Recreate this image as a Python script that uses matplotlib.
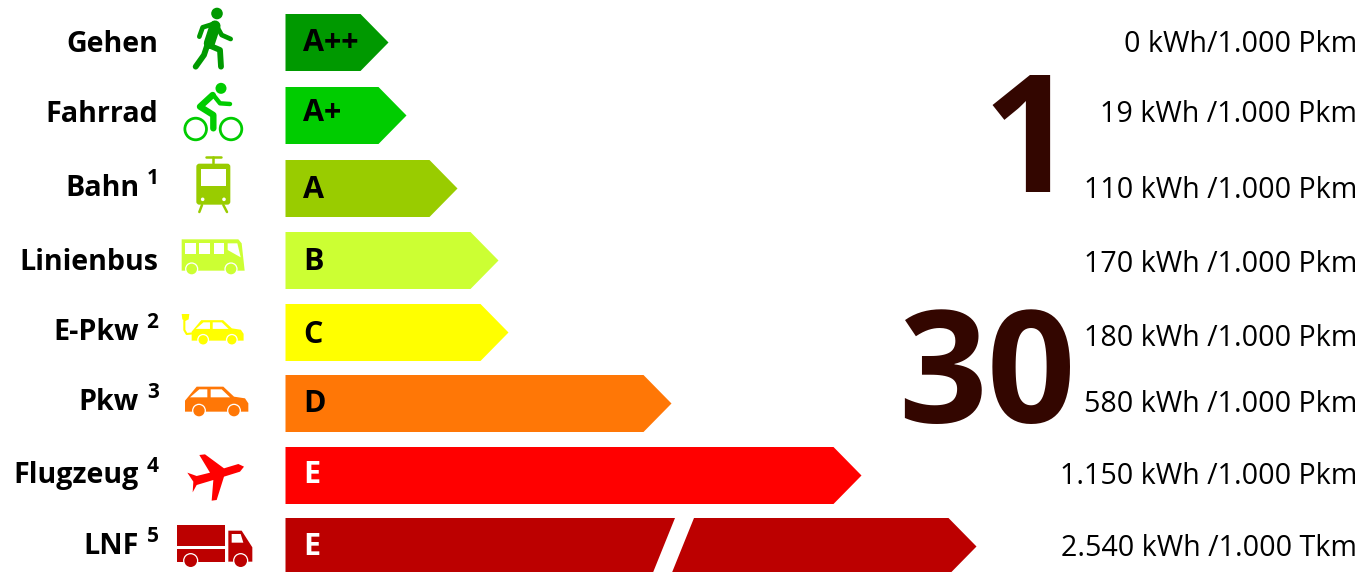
# -*- coding: utf-8 -*-
import numpy as np
import matplotlib
matplotlib.use('Agg')
import matplotlib.pyplot as plt
from matplotlib.patches import Circle, Polygon, FancyBboxPatch, Rectangle

plt.rcParams['font.family'] = ['Open Sans', 'DejaVu Sans']

modes = ['Gehen', 'Fahrrad', 'Bahn', 'Linienbus', 'E-Pkw', 'Pkw', 'Flugzeug', 'LNF']
footnotes = ['', '', '1', '', '2', '3', '4', '5']
classes = ['A++', 'A+', 'A', 'B', 'C', 'D', 'E', 'E']
kwh = [0, 19, 110, 170, 180, 580, 1150, 2540]
kwh_labels = ['0 kWh/1.000 Pkm', '19 kWh /1.000 Pkm', '110 kWh /1.000 Pkm',
              '170 kWh /1.000 Pkm', '180 kWh /1.000 Pkm', '580 kWh /1.000 Pkm',
              '1.150 kWh /1.000 Pkm', '2.540 kWh /1.000 Tkm']
colors = ['#009900', '#00CC00', '#99CC00', '#CCFF33', '#FFFF00', '#FF7706', '#FF0000', '#BC0000']
class_colors = ['k', 'k', 'k', 'k', 'k', 'k', 'w', 'w']

# the bars are schematic: the scale is not linear and the last bar is broken
scale_kwh = [0, 19, 110, 170, 180, 580, 1150, 2540]
scale_px = [103, 121, 172, 213, 223, 386, 576, 691]

BAR_X = 285.5
BAR_H = 57
HEAD = 28
bar_top = [14, 87, 160, 232, 304, 375, 447, 518]
text_y = [44, 115, 189, 263, 333, 403, 476, 547]
class_y = [43, 113, 190, 262, 335, 404, 475, 547]
value_y = [44, 115, 191, 264, 338, 404, 477, 548]


def bar_tip(value):
    return BAR_X + np.interp(value, scale_kwh, scale_px)


def draw_bar(ax, tip, top, color, broken=False):
    mid = top + BAR_H / 2
    bottom = top + BAR_H
    if not broken:
        pts = [(BAR_X, top), (tip - HEAD, top), (tip, mid), (tip - HEAD, bottom), (BAR_X, bottom)]
        ax.add_patch(Polygon(pts, closed=True, fc=color, ec='none'))
        return
    # slanted gap in the long bar
    ax.add_patch(Polygon([(BAR_X, top), (675, top), (652, bottom), (BAR_X, bottom)],
                         closed=True, fc=color, ec='none'))
    ax.add_patch(Polygon([(694, top), (tip - HEAD, top), (tip, mid), (tip - HEAD, bottom), (671, bottom)],
                         closed=True, fc=color, ec='none'))


def scaled(pts, y0=0):
    return [(x / 3, y0 + y / 3) for x, y in pts]


def stroke(ax, pts, color, lw, y0=0):
    xy = np.array(scaled(pts, y0))
    ax.plot(xy[:, 0], xy[:, 1], color=color, lw=lw, solid_capstyle='round',
            solid_joinstyle='round')


def shape(ax, pts, color, y0=0):
    ax.add_patch(Polygon(scaled(pts, y0), closed=True, fc=color, ec='none'))


def wheel(ax, x, y, r, color, y0=0, ring=1.3):
    ax.add_patch(Circle((x / 3, y0 + y / 3), r / 3 + ring, fc='w', ec='none'))
    ax.add_patch(Circle((x / 3, y0 + y / 3), r / 3, fc=color, ec='none'))


def icon_walk(ax, c):
    ax.add_patch(Circle((217, 13.5), 5.8, fc=c, ec='none'))
    stroke(ax, [(645, 78), (628, 130)], c, 8)
    stroke(ax, [(625, 135), (660, 150), (663, 200)], c, 4.2)
    stroke(ax, [(622, 135), (612, 165), (587, 200)], c, 4.2)
    stroke(ax, [(640, 72), (608, 82), (598, 110)], c, 3.4)
    stroke(ax, [(650, 78), (665, 105), (692, 117)], c, 3.4)


def icon_bike(ax, c):
    for x in (587, 693):
        ax.add_patch(Circle((x / 3, 387 / 3), 10.8, fc='none', ec=c, lw=2))
    ax.add_patch(Circle((663 / 3, 265 / 3), 5.5, fc=c, ec='none'))
    stroke(ax, [(638, 285), (600, 320), (640, 345), (640, 385)], c, 4.6)
    stroke(ax, [(640, 285), (660, 310), (690, 312)], c, 3.2)


def icon_tram(ax, c):
    ax.add_patch(FancyBboxPatch((592 / 3, 494 / 3), 96 / 3, 117 / 3, boxstyle='round,pad=1,rounding_size=3',
                                fc=c, ec='none'))
    ax.add_patch(Rectangle((603 / 3, 506 / 3), 75 / 3, 51 / 3, fc='w', ec='none'))
    for x in (608, 672):
        ax.add_patch(Circle((x / 3, 598 / 3), 1.8, fc='w', ec='none'))
    stroke(ax, [(617, 472), (664, 472)], c, 1.8)
    stroke(ax, [(640, 472), (640, 490)], c, 1.8)
    stroke(ax, [(606, 615), (598, 636)], c, 1.8)
    stroke(ax, [(670, 615), (681, 636)], c, 1.8)


def icon_bus(ax, c):
    shape(ax, [(545, 812), (545, 718), (715, 718), (725, 730), (734, 812)], c)
    for x in (556, 598, 641):
        ax.add_patch(Rectangle((x / 3, 730 / 3), 31 / 3, 32 / 3, fc='w', ec='none'))
    shape(ax, [(683, 730), (712, 730), (722, 772), (683, 750)], 'w')
    wheel(ax, 575, 807, 16, c)
    wheel(ax, 693, 807, 16, c)


def icon_car(ax, c, x0, y0, s):
    # outline of a car, shifted and scaled from its own top left corner
    def p(pts):
        return [(x0 + (x - 555) * s, y0 + (y - 287) * s) for x, y in pts]
    shape(ax, p([(555, 365), (555, 332), (590, 290), (670, 290), (702, 320), (735, 325), (745, 340), (745, 365)]), c, 290)
    shape(ax, p([(570, 322), (598, 298), (622, 298), (622, 322)]), 'w', 290)
    shape(ax, p([(632, 298), (665, 298), (690, 322), (632, 322)]), 'w', 290)
    for x, y in p([(597, 362), (702, 362)]):
        wheel(ax, x, y, 17 * s, c, 290)


def icon_plug(ax, c):
    stroke(ax, [(553, 92), (553, 120), (560, 132), (580, 130)], c, 1.5, 290)
    shape(ax, [(545, 72), (568, 72), (566, 88), (556, 93), (547, 88)], c, 290)


def icon_plane(ax, c):
    shape(ax, [(732, 530), (720, 545), (672, 560), (650, 630), (635, 632), (640, 570), (590, 585),
               (578, 607), (580, 575), (562, 548), (590, 558), (630, 548), (598, 495), (615, 493),
               (672, 535), (715, 522)], c, 290)


def icon_truck(ax, c):
    shape(ax, [(530, 706), (675, 706), (675, 768), (530, 768)], c, 290)
    shape(ax, [(530, 778), (675, 778), (675, 815), (530, 815)], c, 290)
    shape(ax, [(685, 722), (725, 722), (757, 772), (757, 815), (685, 815)], c, 290)
    shape(ax, [(695, 732), (722, 732), (730, 758), (695, 758)], 'w', 290)
    wheel(ax, 572, 812, 19, c, 290)
    wheel(ax, 722, 812, 19, c, 290)


def main():
    fig = plt.figure(figsize=(13.67, 5.72), dpi=100)
    ax = fig.add_axes([0, 0, 1, 1])
    ax.set_xlim(0, 1367)
    ax.set_ylim(572, 0)
    ax.axis('off')

    for i, mode in enumerate(modes):
        tip = bar_tip(kwh[i])
        draw_bar(ax, tip, bar_top[i], colors[i], broken=kwh[i] == max(kwh))
        ax.text(303, class_y[i], classes[i], fontsize=22, fontweight='bold', color=class_colors[i],
                ha='left', va='center')
        ax.text(1357, value_y[i], kwh_labels[i], fontsize=20.6, color='k', ha='right', va='center')

        # label ends earlier if a footnote number follows it
        if footnotes[i]:
            ax.text(139, text_y[i], mode, fontsize=20.6, fontweight='bold', ha='right', va='center')
            ax.text(158.5, text_y[i] - 10, footnotes[i], fontsize=15, fontweight='bold', ha='right', va='center')
        else:
            ax.text(158, text_y[i], mode, fontsize=20.6, fontweight='bold', ha='right', va='center')

    icon_walk(ax, colors[0])
    icon_bike(ax, colors[1])
    icon_tram(ax, colors[2])
    icon_bus(ax, colors[3])
    icon_plug(ax, colors[4])
    icon_car(ax, colors[4], 575, 88, 0.82)
    icon_car(ax, colors[5], 555, 287, 1)
    icon_plane(ax, colors[6])
    icon_truck(ax, colors[7])

    ax.text(1029, 149, '1', fontsize=117, fontweight='bold', color='#330600', ha='center', va='center')
    ax.text(987, 381, '30', fontsize=112, fontweight='bold', color='#330600', ha='center', va='center')

    fig.savefig('out.png', dpi=100)


if __name__ == '__main__':
    main()
